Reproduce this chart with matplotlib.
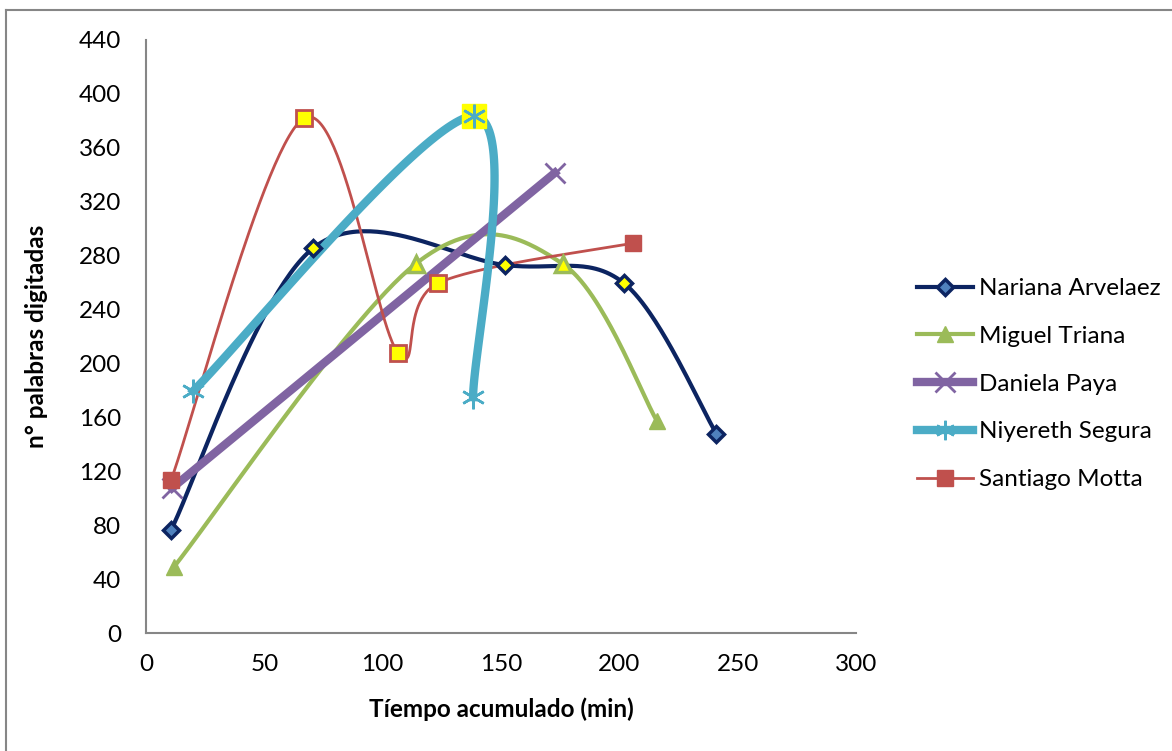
import numpy as np
import matplotlib
matplotlib.use("Agg")
import matplotlib.pyplot as plt
from matplotlib.lines import Line2D

plt.rcParams['font.family'] = ['Lato', 'DejaVu Sans']

# data (time in min, words typed)
nariana_x = [10.6, 70.6, 151.7, 202.0, 241.0]
nariana_y = [76.5, 285.5, 273.0, 259.5, 148.0]

miguel_x = [11.8, 114.0, 176.0, 216.0]
miguel_y = [49.0, 274.0, 274.0, 157.0]

daniela_x = [11.0, 172.8]
daniela_y = [107.5, 341.5]

niyereth_x = [19.9, 138.6, 138.2]
niyereth_y = [179.5, 383.5, 175.0]

santiago_x = [10.6, 66.8, 106.5, 123.4, 205.7]
santiago_y = [113.5, 382.0, 207.7, 259.6, 289.3]


def excel_smooth(x, y, n=60):
    """Bezier smoothing like Excel's 'smoothed line' option."""
    p = np.column_stack([x, y]).astype(float)
    if len(p) < 3:
        return p[:, 0], p[:, 1]
    ext = np.vstack([p[0], p, p[-1]])
    t = np.linspace(0, 1, n)[:, None]
    out = []
    for i in range(len(p) - 1):
        p0, p1 = ext[i + 1], ext[i + 2]
        c1 = p0 + (ext[i + 2] - ext[i]) / 6.0
        c2 = p1 - (ext[i + 3] - ext[i + 1]) / 6.0
        seg = ((1 - t) ** 3) * p0 + 3 * ((1 - t) ** 2) * t * c1 \
            + 3 * (1 - t) * t ** 2 * c2 + t ** 3 * p1
        out.append(seg if i == 0 else seg[1:])
    out = np.vstack(out)
    return out[:, 0], out[:, 1]


fig = plt.figure(figsize=(11.72, 7.51), dpi=100)
ax = fig.add_axes([146 / 1172, 118 / 751, 710 / 1172, 593 / 751])

navy = '#0C2461'
green = '#9BBB59'
purple = '#8064A2'
cyan = '#4BACC6'
red = '#C0504D'
hi = '#FFFF00'

# Nariana
sx, sy = excel_smooth(nariana_x, nariana_y)
ax.plot(sx, sy, color=navy, lw=3, zorder=3)
ax.plot(nariana_x[1:-1], nariana_y[1:-1], 'D', ms=8, mfc=hi, mec=navy, mew=2.5, zorder=5)
ax.plot([nariana_x[0], nariana_x[-1]], [nariana_y[0], nariana_y[-1]], 'D', ms=8,
        mfc='#4F81BD', mec=navy, mew=2.5, zorder=5)

# Miguel
sx, sy = excel_smooth(miguel_x, miguel_y)
ax.plot(sx, sy, color=green, lw=3, zorder=3)
ax.plot(miguel_x[1:-1], miguel_y[1:-1], '^', ms=11, mfc=hi, mec=green, mew=2.5, zorder=5)
ax.plot([miguel_x[0], miguel_x[-1]], [miguel_y[0], miguel_y[-1]], '^', ms=11,
        mfc=green, mec=green, zorder=5)

# Daniela
ax.plot(daniela_x, daniela_y, color=purple, lw=6, zorder=3)
ax.plot(daniela_x, daniela_y, 'x', ms=14, mec=purple, mew=2, zorder=5)

# Niyereth
sx, sy = excel_smooth(niyereth_x, niyereth_y)
ax.plot(sx, sy, color=cyan, lw=6, zorder=4)
ax.plot(niyereth_x[1], niyereth_y[1], 's', ms=17, mfc=hi, mec=hi, zorder=5)
ax.plot(niyereth_x, niyereth_y, ls='none', marker=(6, 2, 0), ms=17, mec=cyan, mew=1.8, zorder=6)

# Santiago
sx, sy = excel_smooth(santiago_x, santiago_y)
ax.plot(sx, sy, color=red, lw=2, zorder=3)
ax.plot(santiago_x[1:-1], santiago_y[1:-1], 's', ms=12, mfc=hi, mec=red, mew=2, zorder=5)
ax.plot([santiago_x[0], santiago_x[-1]], [santiago_y[0], santiago_y[-1]], 's', ms=12,
        mfc=red, mec=red, zorder=5)

ax.set_xlim(0, 300)
ax.set_ylim(0, 440)
ax.set_xticks(np.arange(0, 301, 50))
ax.set_yticks(np.arange(0, 441, 40))
ax.tick_params(length=0, labelsize=17.5)
ax.tick_params(axis='y', pad=18)
ax.tick_params(axis='x', pad=15)
for s in ['top', 'right']:
    ax.spines[s].set_visible(False)
for s in ['left', 'bottom']:
    ax.spines[s].set_color('#868686')
    ax.spines[s].set_linewidth(1.5)

ax.set_xlabel('Tíempo acumulado (min)', fontsize=17.5, fontweight='bold', labelpad=16)
ax.set_ylabel('n° palabras digitadas', fontsize=17.5, fontweight='bold', labelpad=22)

handles = [
    Line2D([], [], color=navy, lw=3, marker='D', ms=8, mfc='#4F81BD', mec=navy, mew=2.5),
    Line2D([], [], color=green, lw=3, marker='^', ms=11, mfc=green, mec=green),
    Line2D([], [], color=purple, lw=6, marker='x', ms=14, mec=purple, mew=2),
    Line2D([], [], color=cyan, lw=6, marker=(6, 2, 0), ms=14, mec=cyan, mew=1.8),
    Line2D([], [], color=red, lw=2, marker='s', ms=12, mfc=red, mec=red),
]
labels = ['Nariana Arvelaez', 'Miguel Triana', 'Daniela Paya', 'Niyereth Segura', 'Santiago Motta']
fig.legend(handles, labels, loc='center left', bbox_to_anchor=(917 / 1172, 1 - 384 / 751),
           frameon=False, fontsize=17.5, handlelength=2.3, handletextpad=0.25,
           labelspacing=1.1, borderaxespad=0, borderpad=0)

# chart frame (left and top edges visible)
fig.add_artist(Line2D([6 / 1172, 6 / 1172], [0, 1 - 10 / 751], color='#868686',
                      lw=1.5, transform=fig.transFigure))
fig.add_artist(Line2D([6 / 1172, 1], [1 - 10 / 751, 1 - 10 / 751], color='#868686',
                      lw=1.5, transform=fig.transFigure))

fig.savefig('out.png', dpi=100)
